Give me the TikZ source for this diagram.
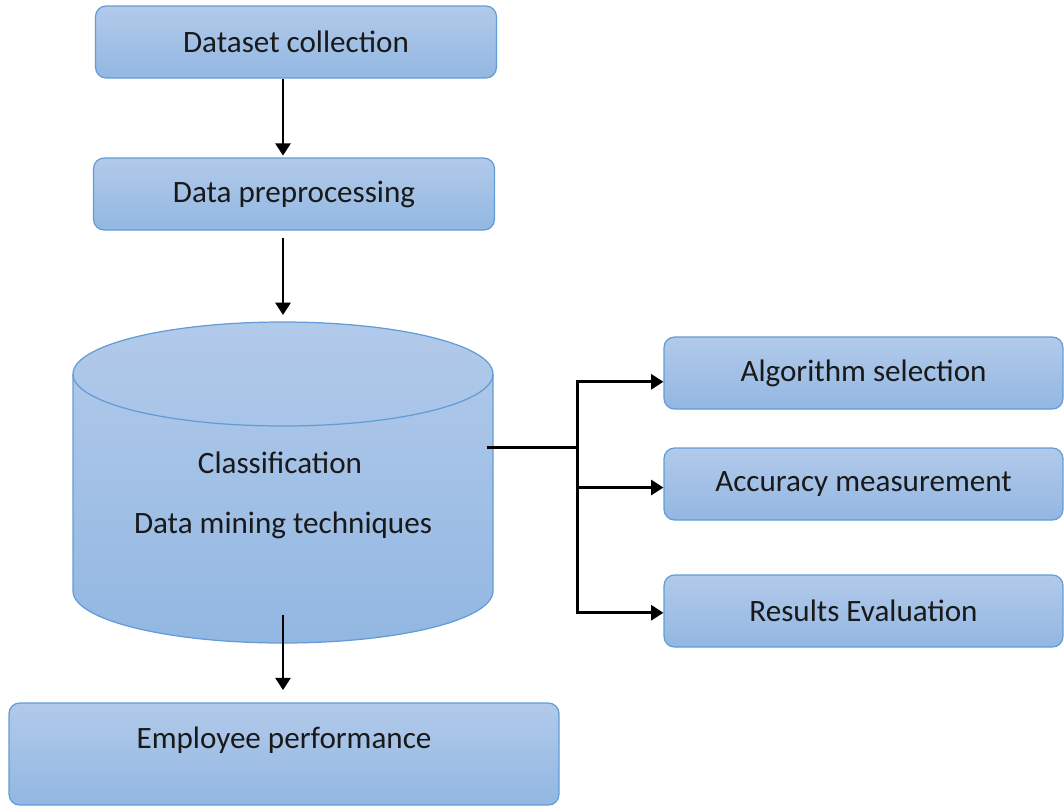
\documentclass[tikz,border=0pt]{standalone}
\usepackage{fontspec}
\setmainfont{Carlito}
\usetikzlibrary{arrows.meta}
\definecolor{boxtop}{RGB}{178,202,234}
\definecolor{boxbot}{RGB}{146,183,226}
\definecolor{boxline}{RGB}{98,156,214}
\definecolor{ink}{RGB}{25,25,25}

\tikzset{
  box/.style={draw=boxline, line width=0.7pt, rounded corners=6pt,
              top color=boxtop, bottom color=boxbot, text=ink,
              font=\fontsize{17.7}{20}\selectfont, inner sep=0pt,
              minimum width=8.02cm, minimum height=1.44cm},
  label/.style={text=ink, font=\fontsize{17.7}{20}\selectfont, inner sep=0pt},
  wire/.style={line width=1.7pt},
  arr/.style={wire, -{Triangle[length=7pt,width=8.5pt]}},
}

\begin{document}
\begin{tikzpicture}[x=0.02cm, y=-0.02cm]
  \useasboundingbox (0,0) rectangle (1064,806);

  % left column
  \node[box] (dataset) at (296,42) {Dataset collection};
  \node[box] (prep) at (294,194) {Data preprocessing};

  % cylinder
  \path[draw=boxline, line width=0.7pt, top color=boxtop, bottom color=boxbot]
    (73,374) -- (73,591) arc[start angle=180, end angle=0, x radius=210, y radius=52]
    -- (493,374) arc[start angle=0, end angle=-180, x radius=210, y radius=52] -- cycle;
  \draw[boxline, line width=0.7pt] (73,374) arc[start angle=180, end angle=0, x radius=210, y radius=52];
  \coordinate (cyltop) at (283,322);
  \coordinate (cylbot) at (283,615);
  \coordinate (cylr) at (487,447);
  \node[label] (classif) at (280,463) {Classification};
  \node[label] (mining) at (283,525) {Data mining techniques};

  \node[box, minimum width=11cm, minimum height=2.04cm] (emp) at (284,754) {};
  \node[label] (emptext) at (284,740) {Employee performance};

  % right column
  \node[box, minimum width=7.98cm] (algo) at (863.5,373) {Algorithm selection};
  \node[box, minimum width=7.98cm] (acc) at (863.5,484) {Accuracy measurement};
  \node[box, minimum width=7.98cm] (res) at (863.5,611) {Results Evaluation};

  % connectors
  \draw[arr, shorten >=1pt] (dataset.south -| cyltop) -- (prep.north -| cyltop);
  \draw[arr, shorten <=4pt, shorten >=4pt] (prep.south -| cyltop) -- (cyltop);
  \draw[arr, shorten >=7pt] (cylbot) -- (emp.north -| cylbot);

  \coordinate (fork) at (577,447);
  \draw[wire] (cylr) -- (fork);
  \draw[arr] (fork) |- ([yshift=-5pt]algo.west);
  \draw[arr] (fork) |- ([yshift=-2pt]acc.west);
  \draw[arr] (fork) |- ([yshift=-1pt]res.west);
\end{tikzpicture}
\end{document}
